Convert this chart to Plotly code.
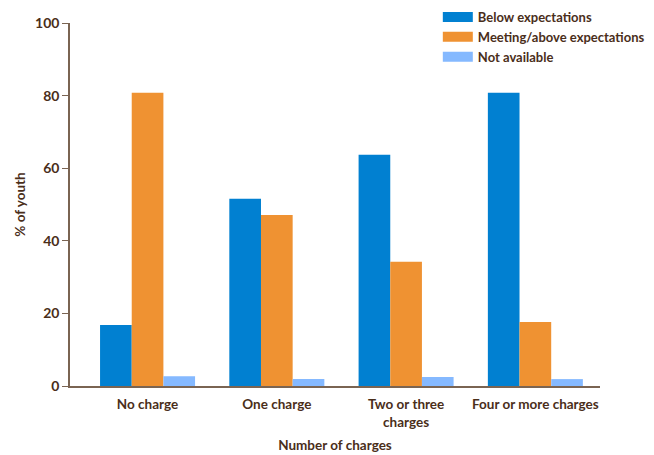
import plotly.graph_objects as go

categories = ["No charge", "One charge", "Two or three<br>charges", "Four or more charges"]
below = [16.8, 51.6, 63.7, 80.8]
meeting = [80.8, 47.1, 34.2, 17.6]
not_avail = [2.7, 1.9, 2.5, 1.9]
series_names = ["Below expectations", "Meeting/above expectations", "Not available"]
colors = ["#0180D1", "#EF9232", "#85B9FF"]
y_ticks = [0, 20, 40, 60, 80, 100]

TXT = "#4A2E1A"
AXC = "#7A6452"
FONT = "Lato"

fig = go.Figure()
for name, vals, col in zip(series_names, [below, meeting, not_avail], colors):
    fig.add_trace(go.Bar(x=categories, y=vals, name=name, marker_color=col,
                         marker_line_width=0, showlegend=False))
# legend entries with wide rectangular swatches
for name, col in zip(series_names, colors):
    fig.add_trace(go.Scatter(x=[None], y=[None], mode="lines", name=name,
                             line=dict(color=col, width=11)))

fig.update_layout(
    width=654, height=455,
    margin=dict(l=62, r=62, t=15, b=77, autoexpand=False),
    paper_bgcolor="white", plot_bgcolor="white",
    barmode="group", bargap=0.265, bargroupgap=0,
    font=dict(family=FONT, color=TXT, size=13),
    legend=dict(x=0.694, y=1.058, xanchor="left", yanchor="top",
                font=dict(family=FONT, size=13, color=TXT, weight="bold"),
                tracegroupgap=0, itemwidth=30, bgcolor="rgba(0,0,0,0)"),
    xaxis=dict(
        range=[-0.6, 3.5], automargin=False,
        showline=True, linecolor=AXC, linewidth=1.5,
        ticks="", showgrid=False, ticklabelstandoff=5,
        tickfont=dict(family=FONT, size=13.5, color=TXT, weight="bold"),
        title=dict(text="Number of charges", standoff=12,
                   font=dict(family=FONT, size=13.5, color=TXT, weight="bold")),
    ),
    yaxis=dict(
        range=[0, 100], tickvals=y_ticks, automargin=False,
        showline=True, linecolor=AXC, linewidth=1.5,
        ticks="outside", ticklen=6, tickcolor=AXC, showgrid=False, zeroline=False,
        tickfont=dict(family=FONT, size=14, color=TXT, weight="bold"),
        title=dict(text="% of youth", standoff=6,
                   font=dict(family=FONT, size=13.5, color=TXT, weight="bold")),
    ),
)

fig.write_html("out.html")
